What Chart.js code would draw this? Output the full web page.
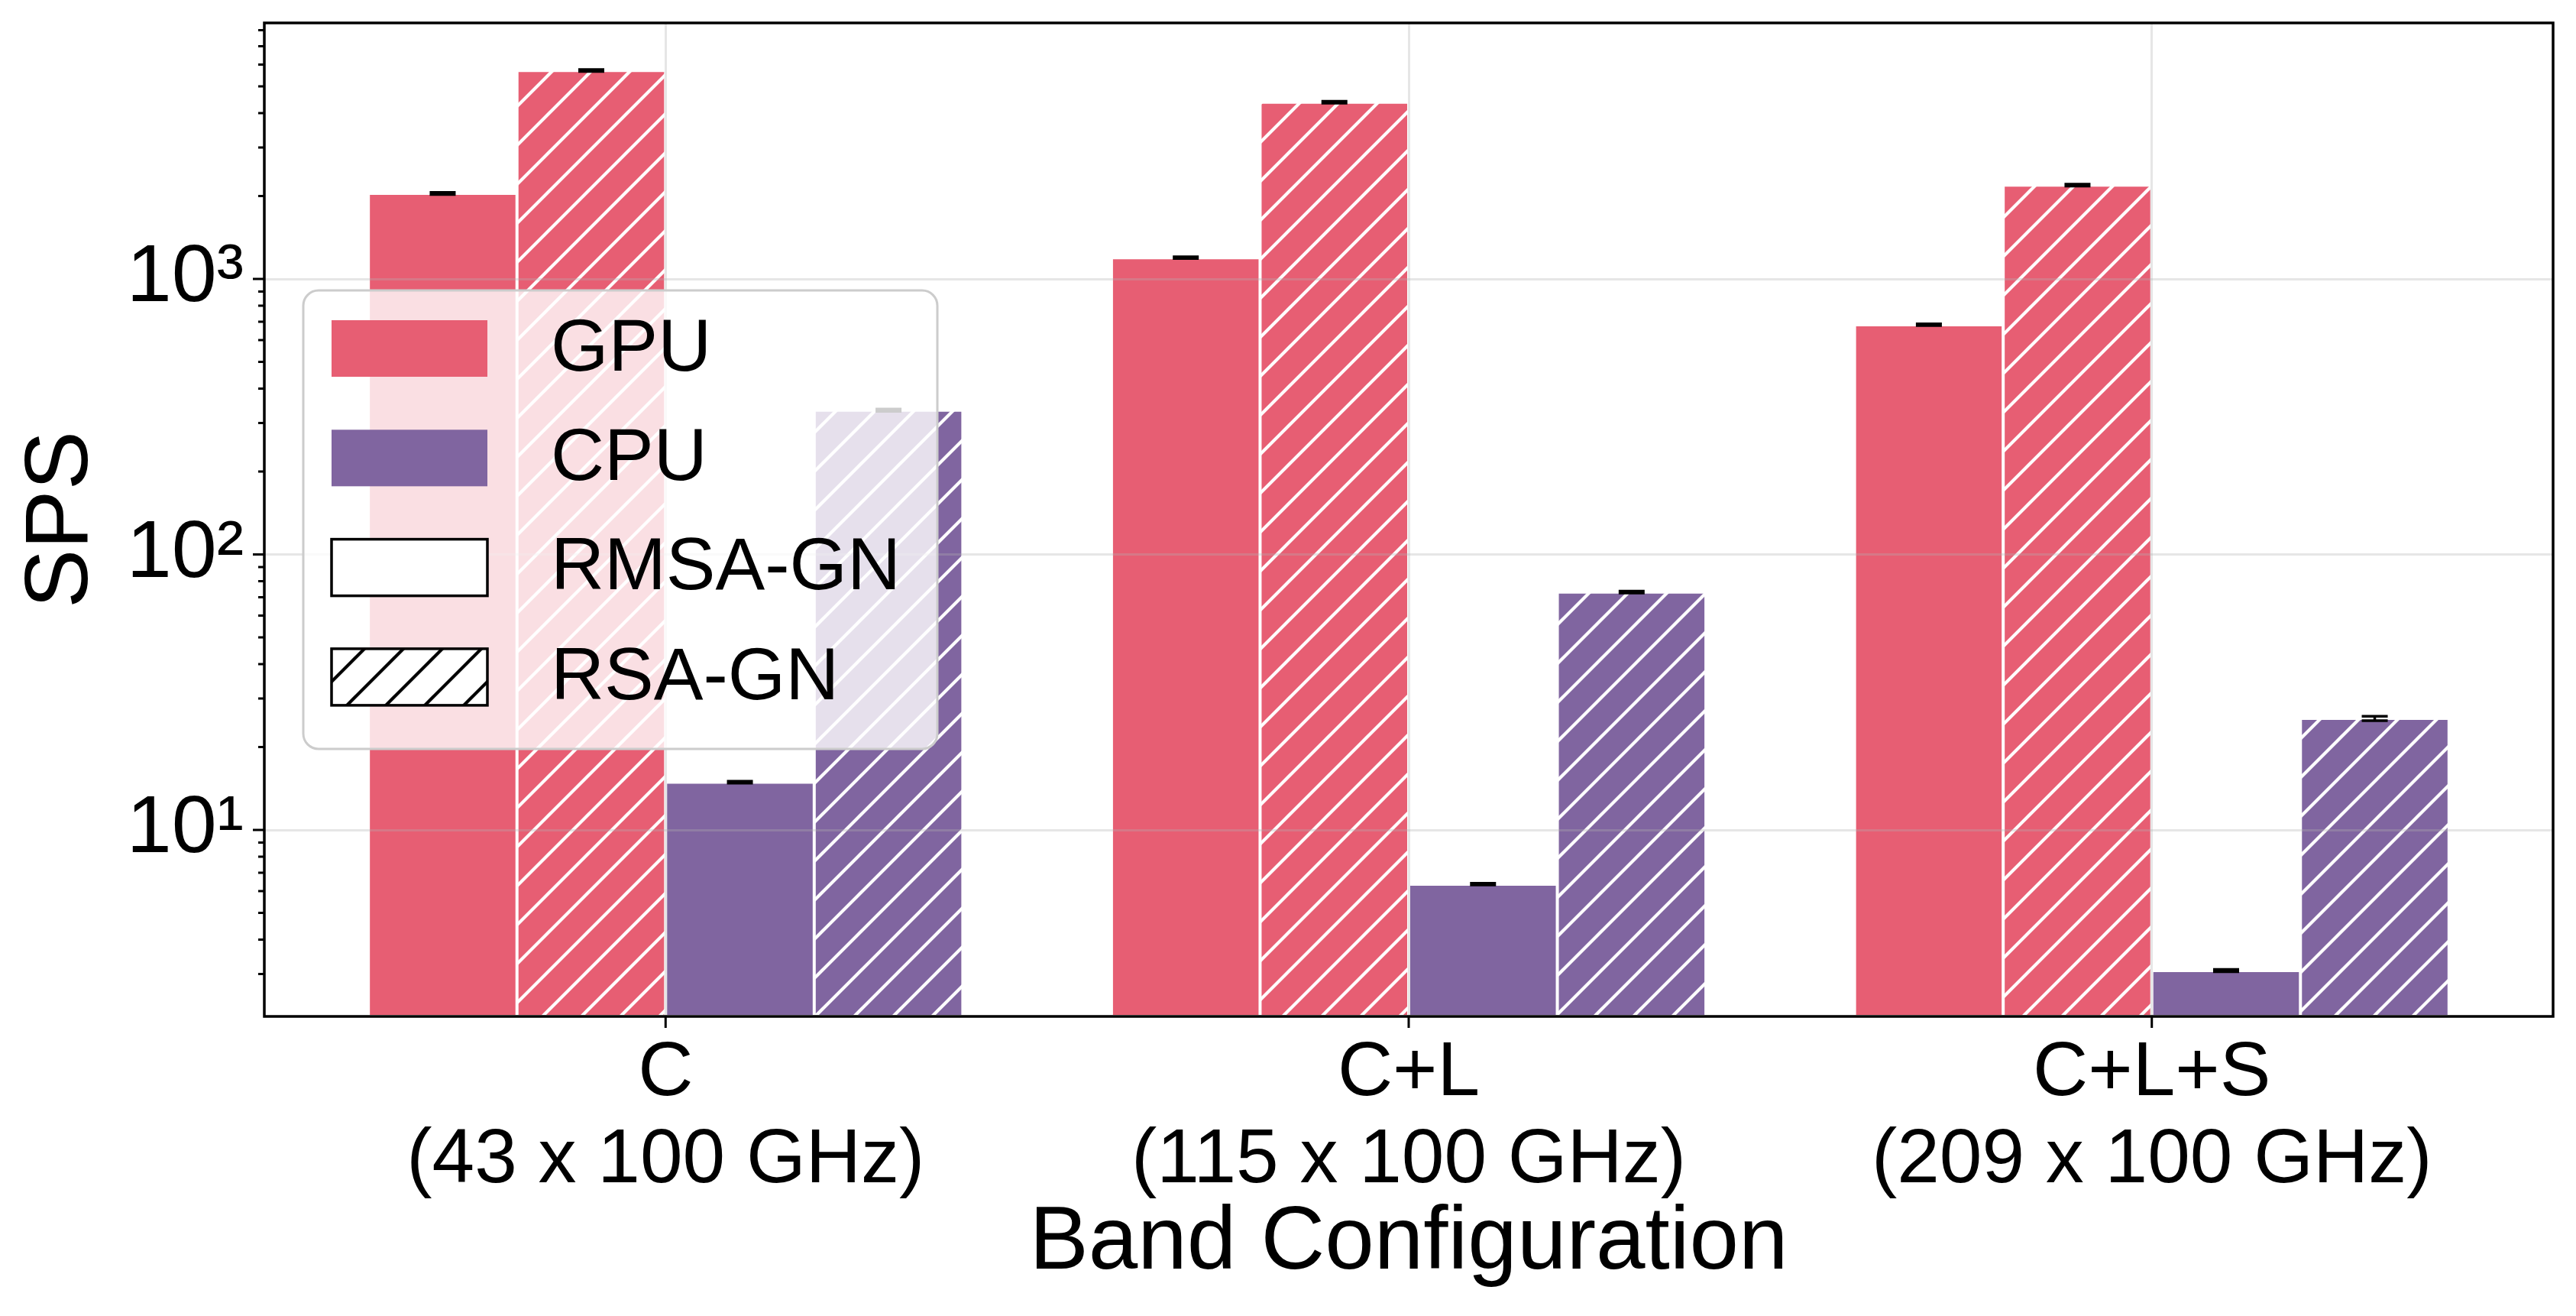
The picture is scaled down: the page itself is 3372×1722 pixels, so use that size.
<!DOCTYPE html>
<html>
<head>
<meta charset="utf-8">
<script src="https://cdn.jsdelivr.net/npm/chart.js@4.4.1/dist/chart.umd.min.js"></script>
<style>
  html, body { margin: 0; padding: 0; background: #fff; }
  #wrap { width: 3372px; height: 1722px; }
</style>
</head>
<body>
<div id="wrap"><canvas id="myChart"></canvas></div>
<script>
// band configurations (x categories, two-line labels)
const categories = [['C', '(43 x 100 GHz)'], ['C+L', '(115 x 100 GHz)'], ['C+L+S', '(209 x 100 GHz)']];

// SPS values
const gpuRmsa = [2045, 1195, 682];
const gpuRsa = [5710, 4380, 2190];
const cpuRmsa = [14.9, 6.36, 3.09];
const cpuRsa = [334, 73, 25.4];

// small error bars
const gpuRmsaErr = [18, 9, 5];
const gpuRsaErr = [45, 35, 18];
const cpuRmsaErr = [0.12, 0.05, 0.03];
const cpuRsaErr = [3, 0.6, 0.45];

const yTickLabels = {1: '10\u00b9', 2: '10\u00b2', 3: '10\u00b3'};
const legendNames = ['GPU', 'CPU', 'RMSA-GN', 'RSA-GN'];

const RED = '#e75e73';
const PURPLE = '#8065a0';
const GRID = 'rgba(176, 176, 176, 0.32)';
const FONT = '"Liberation Sans", Arial, Helvetica, sans-serif';

Chart.defaults.font.family = FONT;
Chart.defaults.color = '#000';

function hatch(bg, fg) {
    const s = 51;
    const c = document.createElement('canvas');
    c.width = s; c.height = s;
    const g = c.getContext('2d');
    g.fillStyle = bg;
    g.fillRect(0, 0, s, s);
    g.strokeStyle = fg;
    g.lineWidth = 4.2;
    g.beginPath();
    for (const k of [0, s, 2 * s]) {
        g.moveTo(-s, k + s);
        g.lineTo(k + s, -s);
    }
    g.stroke();
    return g.createPattern(c, 'repeat');
}

function toPoints(arr) {
    return arr.map((v, i) => ({x: i, y: v}));
}

function isWholeSignificand(v) {
    const m = v / Math.pow(10, Math.floor(Math.log10(v) + 1e-9));
    return Math.abs(m - Math.round(m)) < 1e-6;
}

const errorBars = {
    id: 'errorBars',
    afterDatasetsDraw(chart) {
        const ctx = chart.ctx;
        const y = chart.scales.y;
        ctx.save();
        ctx.strokeStyle = '#000';
        ctx.lineWidth = 3.5;
        chart.data.datasets.forEach((ds, i) => {
            chart.getDatasetMeta(i).data.forEach((bar, j) => {
                const v = ds.data[j].y, e = ds.errors[j];
                const top = y.getPixelForValue(v + e);
                const bot = y.getPixelForValue(v - e);
                ctx.beginPath();
                ctx.moveTo(bar.x, top); ctx.lineTo(bar.x, bot);
                ctx.moveTo(bar.x - 17, top); ctx.lineTo(bar.x + 17, top);
                ctx.moveTo(bar.x - 17, bot); ctx.lineTo(bar.x + 17, bot);
                ctx.stroke();
            });
        });
        ctx.restore();
    }
};

const frameAndTicks = {
    id: 'frameAndTicks',
    afterDraw(chart) {
        const {ctx, chartArea: a, scales} = chart;
        ctx.save();
        ctx.strokeStyle = '#000';
        ctx.lineWidth = 3;
        ctx.beginPath();
        for (const t of scales.y.ticks) {
            const py = scales.y.getPixelForValue(t.value);
            const len = t.major ? 15 : 8;
            ctx.moveTo(a.left - len, py);
            ctx.lineTo(a.left, py);
        }
        for (const t of scales.x.ticks) {
            const px = scales.x.getPixelForValue(t.value);
            ctx.moveTo(px, a.bottom);
            ctx.lineTo(px, a.bottom + 15);
        }
        ctx.stroke();
        ctx.lineWidth = 3.5;
        ctx.strokeRect(a.left, a.top, a.right - a.left, a.bottom - a.top);
        ctx.restore();
    }
};

const legendBox = {
    id: 'legendBox',
    afterDraw(chart) {
        const ctx = chart.ctx;
        const fills = [RED, PURPLE, '#fff', hatch('#fff', '#000')];
        const outlined = [false, false, true, true];
        ctx.save();
        ctx.beginPath();
        ctx.roundRect(397, 380, 830, 600, 20);
        ctx.fillStyle = 'rgba(255, 255, 255, 0.8)';
        ctx.fill();
        ctx.lineWidth = 3;
        ctx.strokeStyle = '#cccccc';
        ctx.stroke();
        ctx.font = '97px ' + FONT;
        ctx.textBaseline = 'middle';
        legendNames.forEach((name, i) => {
            const top = 419 + i * 143.3;
            ctx.fillStyle = fills[i];
            ctx.fillRect(434, top, 204, 74);
            if (outlined[i]) {
                ctx.lineWidth = 3.5;
                ctx.strokeStyle = '#000';
                ctx.strokeRect(434, top, 204, 74);
            }
            ctx.fillStyle = '#000';
            ctx.fillText(name, 721, top + 39);
        });
        ctx.restore();
    }
};

function makeSet(label, values, errors, fill) {
    return {
        label: label,
        data: toPoints(values),
        errors: errors,
        backgroundColor: fill,
        borderColor: '#fff',
        borderWidth: 2,
        borderSkipped: false
    };
}

function drawChart() {
    const ctx = document.getElementById('myChart').getContext('2d');
    new Chart(ctx, {
        type: 'bar',
        data: {
            datasets: [
                makeSet('GPU RMSA-GN', gpuRmsa, gpuRmsaErr, RED),
                makeSet('GPU RSA-GN', gpuRsa, gpuRsaErr, hatch(RED, '#fff')),
                makeSet('CPU RMSA-GN', cpuRmsa, cpuRmsaErr, PURPLE),
                makeSet('CPU RSA-GN', cpuRsa, cpuRsaErr, hatch(PURPLE, '#fff'))
            ]
        },
        options: {
            responsive: true,
            maintainAspectRatio: false,
            devicePixelRatio: 1,
            animation: false,
            layout: { padding: { top: 30, right: 30, left: 0, bottom: 0 } },
            categoryPercentage: 0.8,
            barPercentage: 1,
            plugins: {
                legend: { display: false },
                tooltip: { enabled: false }
            },
            scales: {
                x: {
                    type: 'linear',
                    min: -0.54,
                    max: 2.54,
                    offset: false,
                    afterBuildTicks: (scale) => {
                        scale.ticks = categories.map((c, i) => ({value: i}));
                    },
                    afterFit: (scale) => {
                        scale.height = 392;
                        scale.paddingLeft = 0;
                        scale.paddingRight = 0;
                    },
                    ticks: {
                        autoSkip: false,
                        maxRotation: 0,
                        padding: 4,
                        font: { size: 100, lineHeight: 1.135 },
                        callback: (v) => categories[v]
                    },
                    grid: {
                        offset: false,
                        z: 1,
                        color: GRID,
                        lineWidth: 3,
                        tickLength: 15,
                        tickColor: 'rgba(0,0,0,0)'
                    },
                    border: { display: false },
                    title: {
                        display: true,
                        text: 'Band Configuration',
                        font: { size: 116, lineHeight: 1.2 },
                        padding: { top: 0, bottom: 24 }
                    }
                },
                y: {
                    type: 'logarithmic',
                    min: 2.105,
                    max: 8500,
                    afterBuildTicks: (scale) => {
                        scale.ticks = scale.ticks.filter(t => isWholeSignificand(t.value));
                    },
                    afterFit: (scale) => {
                        scale.width = 346;
                        scale.paddingTop = 0;
                        scale.paddingBottom = 0;
                    },
                    ticks: {
                        autoSkip: false,
                        padding: 12,
                        font: { size: 106 },
                        callback: function (value, index, ticks) {
                            if (!ticks[index].major) return '';
                            return yTickLabels[Math.round(Math.log10(value))] || '';
                        }
                    },
                    grid: {
                        z: 1,
                        lineWidth: 3,
                        tickLength: 15,
                        tickColor: 'rgba(0,0,0,0)',
                        color: (c) => (c.tick && c.tick.major) ? GRID : 'rgba(0,0,0,0)'
                    },
                    border: { display: false },
                    title: {
                        display: true,
                        text: 'SPS',
                        font: { size: 116, lineHeight: 1.2 },
                        padding: { top: 12, bottom: 0 }
                    }
                }
            }
        },
        plugins: [errorBars, frameAndTicks, legendBox]
    });
}

drawChart();
</script>
</body>
</html>
